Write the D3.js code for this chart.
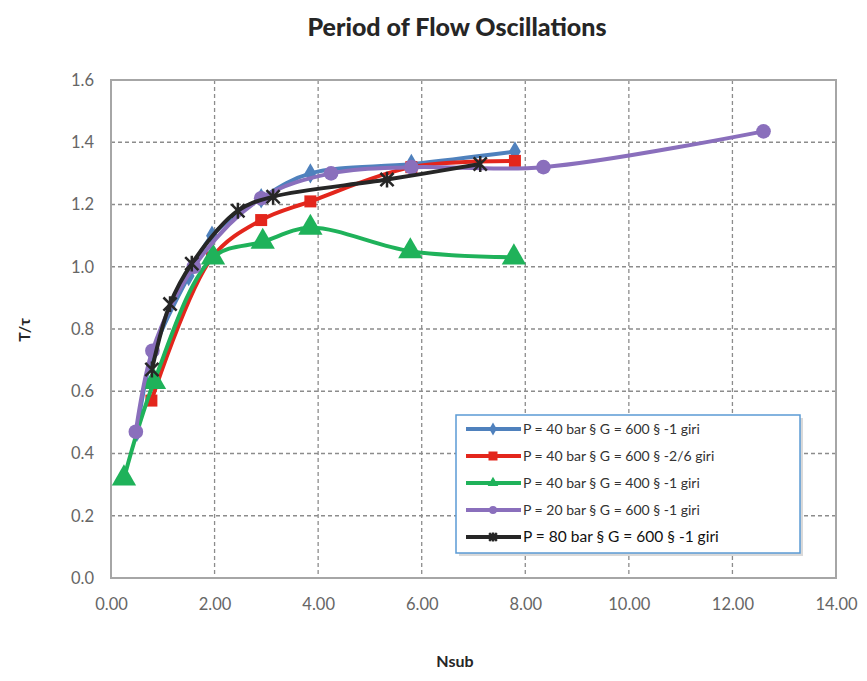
<!DOCTYPE html>
<html>
<head>
    <script src="https://d3js.org/d3.v7.min.js"></script>
    <style>
        body { margin: 0; background: white; }
        .tick text { font: 16.5px Lato, "Open Sans", sans-serif; fill: #666; }
        .title { font: 900 25px Lato, "Open Sans", sans-serif; fill: #262626; }
        .axis-title { font: bold 16px Lato, "Open Sans", sans-serif; fill: #262626; }
        .legend text { font: 14px Lato, "Open Sans", sans-serif; fill: #333; }
    </style>
</head>
<body>
    <script>
        // series data: [Nsub, T/tau]
        const blue40 = [[0.5, 0.47], [0.8, 0.72], [1.5, 0.97], [1.95, 1.1], [2.9, 1.22], [3.85, 1.3], [5.8, 1.33], [7.8, 1.37]];
        const red40 = [[0.78, 0.57], [1.95, 1.03], [2.9, 1.15], [3.85, 1.21], [5.8, 1.32], [7.8, 1.34]];
        const green40 = [[0.25, 0.32], [0.83, 0.63], [1.97, 1.03], [2.93, 1.08], [3.85, 1.125], [5.78, 1.05], [7.78, 1.03]];
        const purple20 = [[0.48, 0.47], [0.8, 0.73], [1.6, 1.0], [2.9, 1.22], [4.25, 1.3], [5.8, 1.32], [8.35, 1.32], [12.6, 1.435]];
        const black80 = [[0.79, 0.67], [1.14, 0.88], [1.56, 1.01], [2.45, 1.18], [3.13, 1.225], [5.33, 1.28], [7.13, 1.33]];

        const seriesNames = [
            'P = 40 bar \u00a7 G = 600 \u00a7 -1 giri',
            'P = 40 bar \u00a7 G = 600 \u00a7 -2/6 giri',
            'P = 40 bar \u00a7 G = 400 \u00a7 -1 giri',
            'P = 20 bar \u00a7 G = 600 \u00a7 -1 giri',
            'P = 80 bar \u00a7 G = 600 \u00a7 -1 giri'
        ];
        const xTicks = [0, 2, 4, 6, 8, 10, 12, 14];
        const yTicks = [0, 0.2, 0.4, 0.6, 0.8, 1.0, 1.2, 1.4, 1.6];

        const series = [
            { name: seriesNames[0], values: blue40, color: '#4f81bd', marker: 'diamond' },
            { name: seriesNames[1], values: red40, color: '#e3261c', marker: 'square' },
            { name: seriesNames[2], values: green40, color: '#1fb25a', marker: 'triangle' },
            { name: seriesNames[3], values: purple20, color: '#8a6fbc', marker: 'circle' },
            { name: seriesNames[4], values: black80, color: '#262626', marker: 'star' }
        ];

        const width = 867, height = 681;
        const margin = { left: 111, right: 31, top: 80, bottom: 103 };

        const svg = d3.select('body').append('svg')
            .attr('width', width)
            .attr('height', height);

        const x = d3.scaleLinear().domain([0, 14]).range([margin.left, width - margin.right]);
        const y = d3.scaleLinear().domain([0, 1.6]).range([height - margin.bottom, margin.top]);

        // gridlines
        const grid = svg.append('g');
        grid.selectAll('.vg').data(xTicks.slice(1, -1)).enter().append('line')
            .attr('x1', d => x(d)).attr('x2', d => x(d))
            .attr('y1', y(1.6)).attr('y2', y(0))
            .attr('stroke', '#8c8c8c').attr('stroke-width', 1.3).attr('stroke-dasharray', '4,3');
        grid.selectAll('.hg').data(yTicks.slice(1, -1)).enter().append('line')
            .attr('x1', x(0)).attr('x2', x(14))
            .attr('y1', d => y(d)).attr('y2', d => y(d))
            .attr('stroke', '#8c8c8c').attr('stroke-width', 1.3).attr('stroke-dasharray', '4,3');

        // plot frame
        svg.append('rect')
            .attr('x', x(0)).attr('y', y(1.6))
            .attr('width', x(14) - x(0)).attr('height', y(0) - y(1.6))
            .attr('fill', 'none').attr('stroke', '#a6a6a6').attr('stroke-width', 2);

        // axes (labels only)
        const xAxis = svg.append('g')
            .attr('transform', `translate(0,${y(0) + 14})`)
            .call(d3.axisBottom(x).tickValues(xTicks).tickFormat(d3.format('.2f')).tickSize(0));
        xAxis.select('.domain').remove();
        xAxis.selectAll('text').attr('dy', '0.9em');

        const yAxis = svg.append('g')
            .attr('transform', `translate(${x(0) - 14},0)`)
            .call(d3.axisLeft(y).tickValues(yTicks).tickFormat(d3.format('.1f')).tickSize(0));
        yAxis.select('.domain').remove();

        // titles
        svg.append('text').attr('class', 'title')
            .attr('x', 457).attr('y', 36).attr('text-anchor', 'middle')
            .text('Period of Flow Oscillations');
        svg.append('text').attr('class', 'axis-title')
            .attr('x', 455).attr('y', 667).attr('text-anchor', 'middle')
            .text('Nsub');
        svg.append('text').attr('class', 'axis-title')
            .attr('transform', 'translate(30,330) rotate(-90)')
            .attr('text-anchor', 'middle')
            .text('T/\u03c4');

        const line = d3.line()
            .x(d => x(d[0])).y(d => y(d[1]))
            .curve(d3.curveCatmullRom.alpha(0.5));

        function drawMarker(g, type, color, size) {
            if (type === 'star') {
                const s = size * 0.55;
                g.append('path')
                    .attr('d', `M${-s},${-s}L${s},${s}M${-s},${s}L${s},${-s}M0,${-s * 1.2}L0,${s * 1.2}`)
                    .attr('stroke', color).attr('stroke-width', 2.5).attr('fill', 'none');
                return;
            }
            const symMap = { diamond: d3.symbolDiamond, square: d3.symbolSquare, triangle: d3.symbolTriangle, circle: d3.symbolCircle };
            g.append('path')
                .attr('d', d3.symbol().type(symMap[type]).size(size * size)())
                .attr('fill', color);
        }

        const markerSize = { diamond: 11, square: 12, triangle: 16, circle: 13, star: 12 };

        series.forEach(s => {
            svg.append('path')
                .datum(s.values)
                .attr('d', line)
                .attr('fill', 'none')
                .attr('stroke', s.color)
                .attr('stroke-width', 4);
            s.values.forEach(p => {
                const g = svg.append('g').attr('transform', `translate(${x(p[0])},${y(p[1])})`);
                drawMarker(g, s.marker, s.color, markerSize[s.marker]);
            });
        });

        // legend
        const legend = svg.append('g').attr('class', 'legend').attr('transform', 'translate(456,415)');
        legend.append('rect')
            .attr('x', 3).attr('y', 3).attr('width', 344).attr('height', 138)
            .attr('fill', '#d9d9d9');
        legend.append('rect')
            .attr('width', 344).attr('height', 138)
            .attr('fill', 'white').attr('stroke', '#5b9bd5').attr('stroke-width', 1.5);
        series.forEach((s, i) => {
            const ly = 14 + i * 27;
            legend.append('line')
                .attr('x1', 10).attr('x2', 65).attr('y1', ly).attr('y2', ly)
                .attr('stroke', s.color).attr('stroke-width', 4);
            const g = legend.append('g').attr('transform', `translate(37,${ly})`);
            drawMarker(g, s.marker, s.color, i === 1 ? 9 : 7);
            legend.append('text')
                .attr('x', 67).attr('y', ly).attr('dy', '0.35em')
                .style('font-size', i === 4 ? '15.5px' : null)
                .style('fill', i === 4 ? '#111' : null)
                .text(s.name);
        });
    </script>
</body>
</html>
